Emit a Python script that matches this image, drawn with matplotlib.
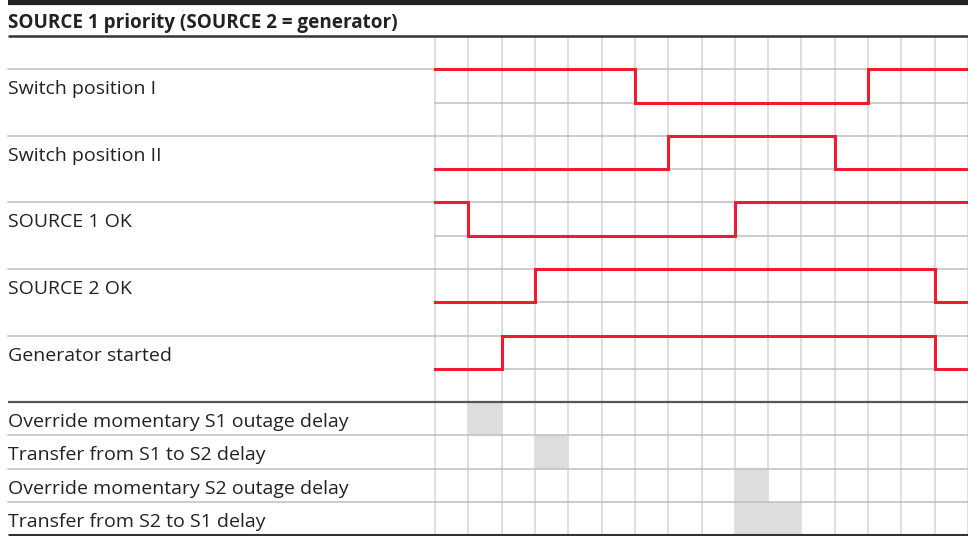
import numpy as np
import matplotlib
matplotlib.use('Agg')
import matplotlib.pyplot as plt

plt.rcParams['font.family'] = ['Open Sans', 'DejaVu Sans']

title = 'SOURCE 1 priority (SOURCE 2 = generator)'

# signal rows: change times (grid columns) and level after each change (1 = high)
signal_labels = ['Switch position I', 'Switch position II', 'SOURCE 1 OK',
                 'SOURCE 2 OK', 'Generator started']
signal_times = [[0, 6, 13, 16],
                [0, 7, 12, 16],
                [0, 1, 9, 16],
                [0, 3, 15, 16],
                [0, 2, 15, 16]]
signal_levels = [[1, 0, 1, 1],
                 [0, 1, 0, 0],
                 [1, 0, 1, 1],
                 [0, 1, 0, 0],
                 [0, 1, 0, 0]]

# delay rows: start column and length in columns
delay_labels = ['Override momentary S1 outage delay', 'Transfer from S1 to S2 delay',
                'Override momentary S2 outage delay', 'Transfer from S2 to S1 delay']
delay_start = [1, 3, 9, 9]
delay_len = [1, 1, 1, 2]

n_cols = 16

RED = '#EE1C2E'
TEXT = '#222222'
GRID_V = '#D6D6D6'
GRID_H = '#BEBEBE'
FS = 14.0

W, H = 968, 536
col_px = (W - 435) / n_cols
row_px = (H - 36) / 15.0
x_left = -435 / col_px
x_lab = (8 - 435) / col_px
base_off = 0.25  # baseline offset below row centre

fig = plt.figure(figsize=(W / 100, H / 100), dpi=100)
ax = fig.add_axes([0, 0, 1, 1])
ax.set_xlim(x_left, n_cols)
ax.set_ylim(15.02, -36 / row_px)
ax.axis('off')

# top bar and title
ax.plot([x_lab, n_cols], [-33.5 / row_px] * 2, color='#222222', lw=4.5,
        solid_capstyle='butt')
ax.text(x_lab, -8 / row_px, title, fontsize=13.6, fontweight='bold', color=TEXT,
        va='baseline', ha='left')
ax.plot([x_lab, n_cols], [0, 0], color='#333333', lw=1.8, solid_capstyle='butt')

# vertical grid
for c in range(n_cols + 1):
    ax.plot([c, c], [0, 15], color=GRID_V, lw=1.1, zorder=1)

n_sig = len(signal_labels)
for i in range(n_sig):
    hi = 1 + 2 * i
    ax.plot([x_lab, n_cols], [hi, hi], color=GRID_H, lw=1.1, zorder=2)
    ax.plot([0, n_cols], [hi + 1, hi + 1], color=GRID_H, lw=1.1, zorder=2)
    ax.text(x_lab, hi + 0.5 + base_off, signal_labels[i], fontsize=FS, color=TEXT,
            va='baseline', ha='left')
    lev = np.array(signal_levels[i])
    ax.step(signal_times[i], hi + 1 - lev, where='post', color=RED, lw=2.2,
            zorder=3, solid_joinstyle='miter')

top = 2 * n_sig + 1
ax.plot([x_lab, n_cols], [top, top], color='#555555', lw=1.6, zorder=2.5,
        solid_capstyle='butt')
for j, lab in enumerate(delay_labels):
    y0 = top + j
    ax.barh(y0 + 0.5, delay_len[j], left=delay_start[j], height=1.0,
            color='#DCDDDF', zorder=1.5)
    ax.text(x_lab, y0 + 0.5 + base_off, lab, fontsize=FS, color=TEXT,
            va='baseline', ha='left')
    if j > 0:
        ax.plot([x_lab, n_cols], [y0, y0], color=GRID_H, lw=1.1, zorder=2)
ax.plot([x_lab, n_cols], [top + len(delay_labels)] * 2, color='#333333', lw=2.2,
        solid_capstyle='butt', zorder=2.5)

fig.savefig('out.png', dpi=100)
